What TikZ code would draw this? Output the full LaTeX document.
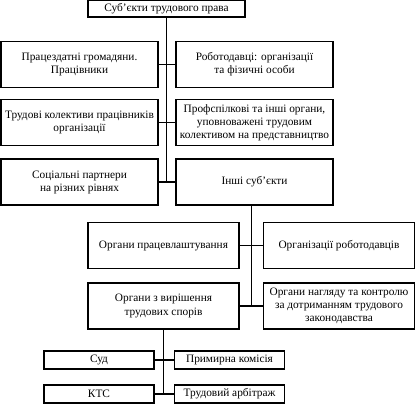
\documentclass[tikz,border=0pt]{standalone}
\usepackage{fontspec}
\setmainfont{Liberation Serif}
\usetikzlibrary{calc}
\begin{document}
\begin{tikzpicture}[x=0.75pt,y=-0.75pt,
  blok/.style={draw, line width=0.9pt, align=center, inner sep=0pt,
    font=\fontsize{8.5}{9.8}\selectfont},
  bigbox/.style={blok, minimum width=117.75pt, minimum height=34.5pt},
  midbox/.style={blok, minimum width=113.25pt, minimum height=34.5pt},
  smallbox/.style={blok, minimum width=82.5pt, minimum height=13.5pt},
  link/.style={line width=0.9pt}]
\useasboundingbox (0,0) rectangle (416,409);
% top level
\node[blok, minimum width=117.75pt, minimum height=12.75pt] (sub) at (166.5,8.5) {Суб'єкти трудового права};
\node[bigbox] (prac) at (79.5,64.5) {Працездатні громадяни.\\Працівники};
\node[bigbox] (robo) at (254.5,64.5) {Роботодавці: організації\\та фізичні особи};
\node[bigbox] (kol) at (79.5,122.5) {Трудові колективи працівників\\організації};
\node[bigbox] (prof) at (254.5,122.5) {Профспілкові та інші органи,\\уповноважені трудовим\\колективом на представництво};
\node[bigbox] (soc) at (79.5,182) {Соціальні партнери\\на різних рівнях};
\node[bigbox] (inshi) at (254.5,182) {Інші суб’єкти};
% other subjects
\node[midbox] (pracevl) at (163.5,245.5) {Органи працевлаштування};
\node[midbox] (orgrob) at (339,245.5) {Організації роботодавців};
\node[midbox] (spory) at (163.5,306) {Органи з вирішення\\трудових спорів};
\node[midbox] (nagl) at (339,306) {Органи нагляду та контролю\\за дотриманням трудового\\законодавства};
% dispute bodies
\node[smallbox] (sud) at (99,360) {Суд};
\node[smallbox] (prym) at (229.5,360) {Примирна комісія};
\node[smallbox] (kts) at (99,394) {КТС};
\node[smallbox] (arb) at (229.5,394) {Трудовий арбітраж};
% connectors
\draw[link] (sub.south) -- (sub.south |- soc.east);
\draw[link] (prac.east) -- (robo.west);
\draw[link] (kol.east) -- (prof.west);
\draw[link] (soc.east) -- (inshi.west);
\coordinate (mid) at ($(pracevl.east)!0.5!(orgrob.west)$);
\draw[link] (mid |- inshi.south) -- (mid |- spory.east);
\draw[link] (pracevl.east) -- (orgrob.west);
\draw[link] (spory.east) -- (nagl.west);
\draw[link] (spory.south) -- (spory.south |- kts.east);
\draw[link] (sud.east) -- (prym.west);
\draw[link] (kts.east) -- (arb.west);
\end{tikzpicture}
\end{document}
